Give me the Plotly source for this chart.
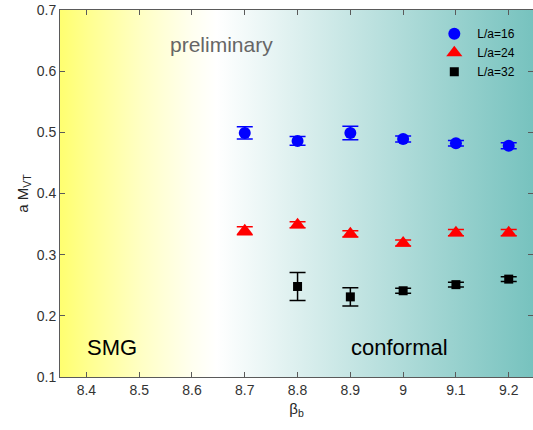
import base64
import plotly.graph_objects as go

beta = [8.7, 8.8, 8.9, 9.0, 9.1, 9.2]
m16 = [0.499, 0.486, 0.499, 0.489, 0.482, 0.478]
e16 = [0.010, 0.007, 0.011, 0.005, 0.0045, 0.005]
m24 = [0.339, 0.349, 0.334, 0.319, 0.336, 0.336]
e24 = [0.0065, 0.005, 0.005, 0.005, 0.005, 0.005]
beta32 = [8.8, 8.9, 9.0, 9.1, 9.2]
m32 = [0.248, 0.231, 0.241, 0.251, 0.260]
e32 = [0.023, 0.015, 0.004, 0.004, 0.004]
xticks = [8.4, 8.5, 8.6, 8.7, 8.8, 8.9, 9.0, 9.1, 9.2]
xticklabels = ["8.4", "8.5", "8.6", "8.7", "8.8", "8.9", "9", "9.1", "9.2"]
yticks = [0.1, 0.2, 0.3, 0.4, 0.5, 0.6, 0.7]

svg = ("<svg xmlns='http://www.w3.org/2000/svg' width='200' height='100' preserveAspectRatio='none'>"
       "<defs><linearGradient id='g' x1='0' y1='0' x2='1' y2='0'>"
       "<stop offset='0' stop-color='#ffff70'/>"
       "<stop offset='0.06' stop-color='#ffff90'/>"
       "<stop offset='0.17' stop-color='#ffffc4'/>"
       "<stop offset='0.28' stop-color='#fffff0'/>"
       "<stop offset='0.33' stop-color='#ffffff'/>"
       "<stop offset='1' stop-color='#76c2be'/>"
       "</linearGradient></defs>"
       "<rect width='200' height='100' fill='url(#g)'/></svg>")
uri = "data:image/svg+xml;base64," + base64.b64encode(svg.encode()).decode()

FONT = "Liberation Sans, Arial, sans-serif"

fig = go.Figure()
fig.add_trace(go.Scatter(
    x=beta, y=m16, mode="markers", name="L/a=16",
    marker=dict(symbol="circle", size=12, color="#0000ff"),
    error_y=dict(type="data", array=e16, color="#0000ff", thickness=1.5, width=8),
))
fig.add_trace(go.Scatter(
    x=beta, y=m24, mode="markers", name="L/a=24",
    marker=dict(symbol="triangle-up", size=14, color="#ff0000"),
    error_y=dict(type="data", array=e24, color="#ff0000", thickness=1.5, width=8),
))
fig.add_trace(go.Scatter(
    x=beta32, y=m32, mode="markers", name="L/a=32",
    marker=dict(symbol="square", size=9, color="#000000"),
    error_y=dict(type="data", array=e32, color="#000000", thickness=1.5, width=8),
))

fig.add_layout_image(dict(
    source=uri, xref="x", yref="y", x=8.35, y=0.7, sizex=0.9, sizey=0.6,
    sizing="stretch", layer="below", xanchor="left", yanchor="top",
))

fig.add_annotation(x=8.655, y=0.643, text="preliminary", showarrow=False,
                   font=dict(family=FONT, size=21, color="#666666"))
fig.add_annotation(x=8.449, y=0.149, text="SMG", showarrow=False,
                   font=dict(family=FONT, size=22, color="#000000"))
fig.add_annotation(x=8.994, y=0.149, text="conformal", showarrow=False,
                   font=dict(family=FONT, size=22, color="#000000"))

axis_common = dict(
    showgrid=False, zeroline=False, showline=True, linecolor="#5a5a5a", linewidth=1,
    mirror="ticks", ticks="inside", ticklen=5, tickcolor="#5a5a5a",
    tickfont=dict(family=FONT, size=14, color="#333333"),
)

fig.update_xaxes(range=[8.35, 9.246], tickvals=xticks, ticktext=xticklabels,
                 title=dict(text="β<sub>b</sub>", font=dict(family=FONT, size=15, color="#262626"), standoff=6),
                 **axis_common)
fig.update_yaxes(range=[0.1, 0.7], tickvals=yticks, ticktext=[f"{v:.1f}" for v in yticks],
                 title=dict(text="a M<sub>VT</sub>", font=dict(family=FONT, size=15, color="#262626"), standoff=4),
                 **axis_common)

fig.update_layout(
    width=533, height=430,
    margin=dict(l=60, r=0, t=10, b=53),
    paper_bgcolor="white", plot_bgcolor="white",
    showlegend=True,
    legend=dict(x=0.785, y=0.975, xanchor="left", yanchor="top",
                bgcolor="rgba(0,0,0,0)", borderwidth=0,
                font=dict(family=FONT, size=12, color="#000000"),
                itemwidth=36, tracegroupgap=0),
)

fig.write_html("out.html", config={"displayModeBar": False},
               post_script="document.body.style.margin='0';document.body.style.overflow='hidden';")
